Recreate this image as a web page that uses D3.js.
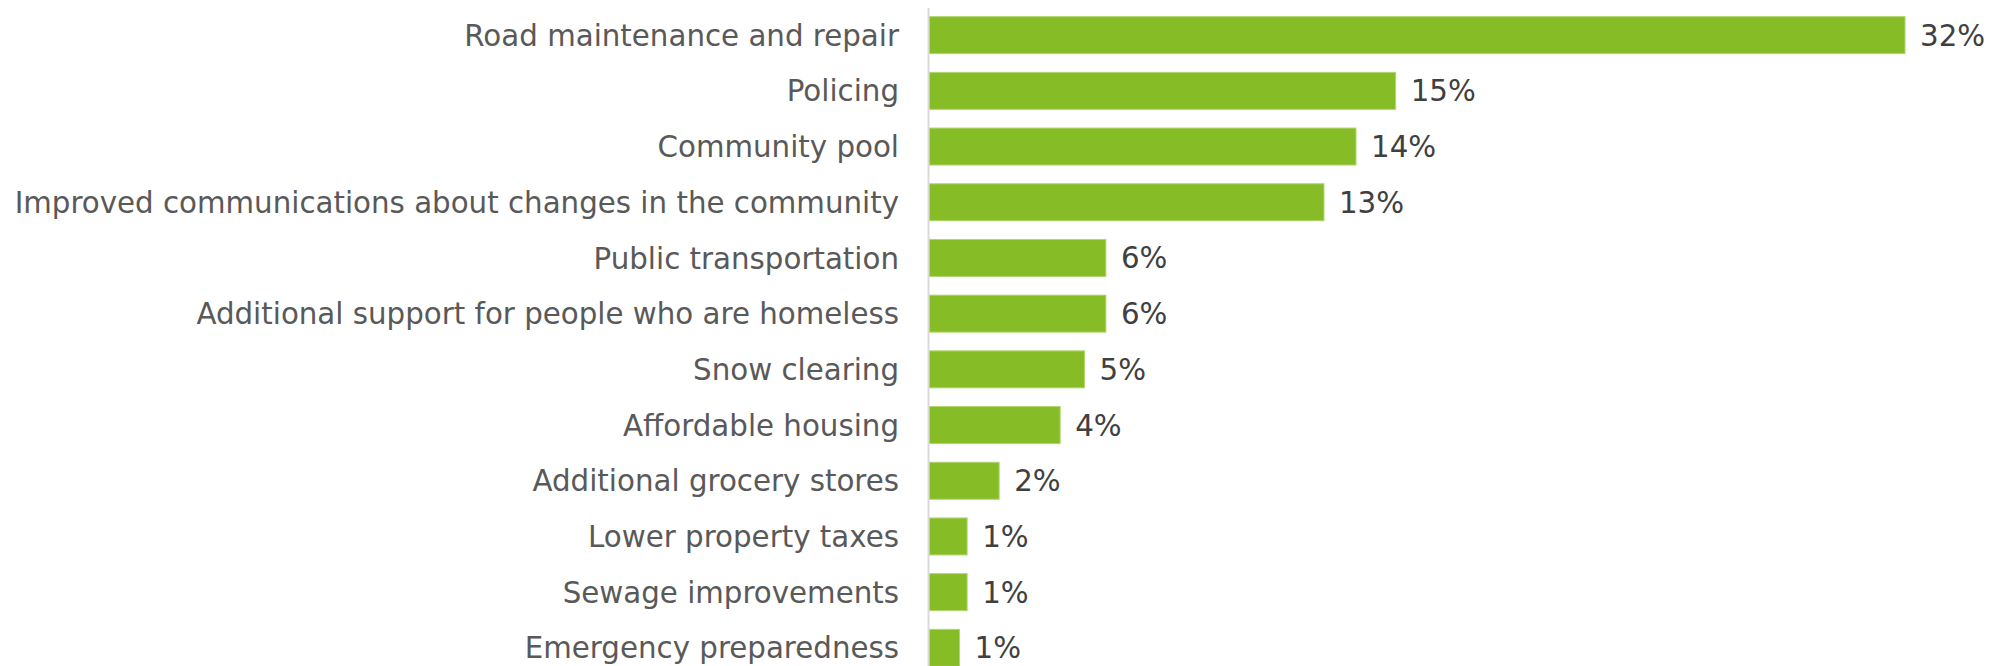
<!DOCTYPE html>
<html>
<head>
<meta charset="utf-8">
<script src="https://cdn.jsdelivr.net/npm/d3@7"></script>
<style>
  html, body { margin: 0; padding: 0; background: #ffffff; overflow: hidden; }
  svg { display: block; }
</style>
</head>
<body>
<svg id="chart" width="1993" height="666"></svg>
<script>
const categories = [
  "Road maintenance and repair",
  "Policing",
  "Community pool",
  "Improved communications about changes in the community",
  "Public transportation",
  "Additional support for people who are homeless",
  "Snow clearing",
  "Affordable housing",
  "Additional grocery stores",
  "Lower property taxes",
  "Sewage improvements",
  "Emergency preparedness"
];
const values = [32.0, 15.3, 14.0, 12.95, 5.8, 5.8, 5.1, 4.3, 2.3, 1.25, 1.25, 1.0];
const valueLabels = ["32%", "15%", "14%", "13%", "6%", "6%", "5%", "4%", "2%", "1%", "1%", "1%"];

const svg = d3.select("#chart");
const fontFamily = "Verdana, 'DejaVu Sans', sans-serif";

const x = d3.scaleLinear().domain([0, 32]).range([929, 1905]);
const y = d3.scaleBand()
  .domain(categories)
  .range([7.3, 675.7])
  .paddingInner(0.336)
  .paddingOuter(0.168);

// bars
svg.append("g").selectAll("rect")
  .data(categories)
  .join("rect")
  .attr("x", x(0))
  .attr("y", d => y(d))
  .attr("width", (d, i) => x(values[i]) - x(0))
  .attr("height", y.bandwidth())
  .attr("fill", "#86bc25")
  .attr("stroke", "#b3d470")
  .attr("stroke-width", 1);

// category axis
const axis = svg.append("g")
  .attr("transform", "translate(928,0)")
  .call(d3.axisLeft(y).tickSize(0).tickPadding(29));
axis.select(".domain").attr("stroke", "#d9d9d9").attr("stroke-width", 2);
axis.selectAll(".tick text")
  .attr("fill", "#595959")
  .attr("dy", "0.36em")
  .style("font-family", fontFamily)
  .style("font-size", "29.3px");

// value labels
svg.append("g").selectAll("text")
  .data(categories)
  .join("text")
  .attr("x", (d, i) => x(values[i]) + 15)
  .attr("y", d => y(d) + y.bandwidth() / 2)
  .attr("dy", "0.36em")
  .attr("fill", "#404040")
  .style("font-family", fontFamily)
  .style("font-size", "29.3px")
  .text((d, i) => valueLabels[i]);
</script>
</body>
</html>
